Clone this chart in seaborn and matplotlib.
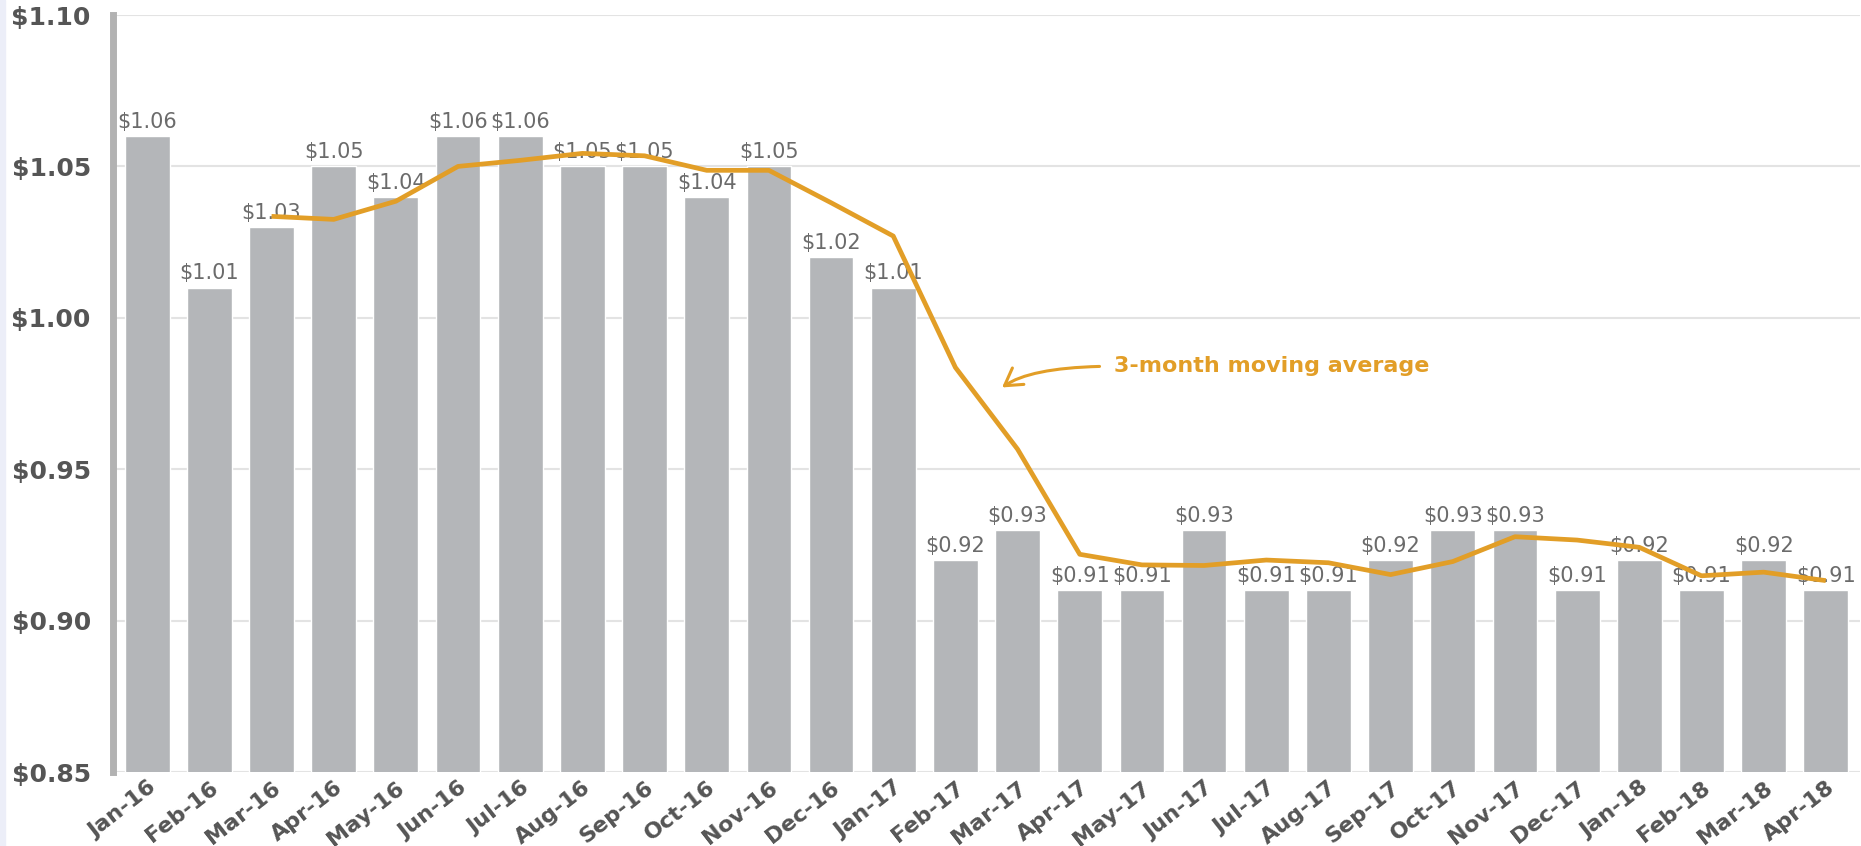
"""
Monthly price with 3-month moving average, Jan-16 to Apr-18
"""
import numpy as np
import pandas as pd
import matplotlib
matplotlib.use("Agg")
import matplotlib.pyplot as plt
from matplotlib.patches import Rectangle
import seaborn as sns

# data
months = ['Jan-16', 'Feb-16', 'Mar-16', 'Apr-16', 'May-16', 'Jun-16', 'Jul-16',
          'Aug-16', 'Sep-16', 'Oct-16', 'Nov-16', 'Dec-16', 'Jan-17', 'Feb-17',
          'Mar-17', 'Apr-17', 'May-17', 'Jun-17', 'Jul-17', 'Aug-17', 'Sep-17',
          'Oct-17', 'Nov-17', 'Dec-17', 'Jan-18', 'Feb-18', 'Mar-18', 'Apr-18']
price = [1.06, 1.01, 1.03, 1.05, 1.04, 1.06, 1.06, 1.05, 1.05, 1.04, 1.05, 1.02,
         1.01, 0.92, 0.93, 0.91, 0.91, 0.93, 0.91, 0.91, 0.92, 0.93, 0.93, 0.91,
         0.92, 0.91, 0.92, 0.91]
# moving average starts at Mar-16
moving_avg = [1.0335, 1.0325, 1.0385, 1.0500, 1.0520, 1.0543, 1.0535, 1.0487,
              1.0487, 1.0380, 1.0270, 0.9836, 0.9566, 0.9219, 0.9184, 0.9182,
              0.9200, 0.9191, 0.9152, 0.9195, 0.9277, 0.9266, 0.9242, 0.9148,
              0.9160, 0.9132]
y_ticks = [0.85, 0.90, 0.95, 1.00, 1.05, 1.10]

bar_col = '#b4b6b9'
line_col = '#e29e27'
text_col = '#555555'

df = pd.DataFrame({'month': months, 'price': price})
pos = np.arange(len(months))

sns.set_style('white')
plt.rcParams['font.family'] = ['DejaVu Sans']

fig = plt.figure(figsize=(18.61, 8.46), dpi=100)
ax = fig.add_axes([113 / 1861, 74 / 846, (1860 - 113) / 1861, (772 - 15) / 846])
# light strip on the far left
fig.patches.append(Rectangle((0, 0), 5 / 1861, 1, transform=fig.transFigure,
                             color='#eceef8', zorder=0))

sns.barplot(data=df, x='month', y='price', color=bar_col, saturation=1,
            width=0.72, ax=ax, zorder=2)
ax.plot(pos[2:], moving_avg, color=line_col, lw=3.4, zorder=5,
        solid_capstyle='butt')

# value labels
for p, v in zip(pos, price):
    ax.annotate(f'${v:.2f}', (p, v), xytext=(0, 3), textcoords='offset points',
                ha='center', va='bottom', fontsize=15, color='#6b6b6b', zorder=4)

ax.annotate('3-month moving average', xy=(13.75, 0.977), xytext=(15.55, 0.984),
            fontsize=16, fontweight='bold', color=line_col, ha='left', va='center',
            arrowprops=dict(arrowstyle='->,head_length=0.75,head_width=0.45',
                            color=line_col, lw=2.2, relpos=(0, 0.5),
                            shrinkA=8, shrinkB=0,
                            connectionstyle='angle3,angleA=0,angleB=35'))

ax.set_ylim(0.85, 1.10)
ax.set_xlim(-0.55, len(months) - 0.45)
ax.set_yticks(y_ticks)
ax.set_yticklabels([f'${t:.2f}' for t in y_ticks], fontsize=18,
                   fontweight='bold', color=text_col)
ax.set_xticks(pos)
ax.set_xticklabels(months, rotation=38, ha='right', va='top',
                   rotation_mode='anchor', fontsize=16, fontweight='bold',
                   color=text_col)
ax.tick_params(axis='both', length=0)
ax.tick_params(axis='y', pad=16)
ax.tick_params(axis='x', pad=4)
ax.set_xlabel('')
ax.set_ylabel('')
ax.grid(axis='y', color='#e3e3e3', lw=1.5, zorder=0)
ax.set_axisbelow(True)
for s in ['top', 'right', 'bottom']:
    ax.spines[s].set_visible(False)
ax.spines['left'].set_color('#b2b2b2')
ax.spines['left'].set_linewidth(5)

fig.savefig('out.png', dpi=100)
